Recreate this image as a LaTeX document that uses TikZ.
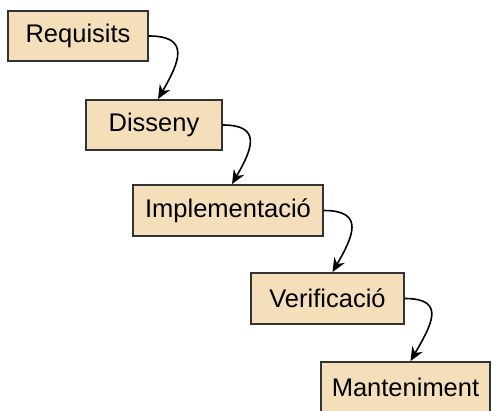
\documentclass[tikz,border=0pt]{standalone}
\usepackage{fontspec}
\setmainfont{Liberation Sans}
\usetikzlibrary{arrows.meta}
\definecolor{phasefill}{HTML}{F5DFBA}
\definecolor{phaseline}{HTML}{333333}
\begin{document}
\begin{tikzpicture}[x=1pt,y=-1pt,
  phase/.style={draw=phaseline, line width=1.8pt, fill=phasefill,
    minimum height=50pt, inner sep=0pt, font=\fontsize{25.5}{29}\selectfont},
  flow/.style={line width=1.6pt, -{Stealth[length=14pt,width=12pt]}}]
\useasboundingbox (0,0) rectangle (493,410);
\node[phase, minimum width=140pt] (req) at (78,36) {Requisits};
\node[phase, minimum width=136pt] (dis) at (154,125) {Disseny};
\node[phase, minimum width=190pt, minimum height=51pt] (imp) at (228,210.5) {Implementació};
\node[phase, minimum width=153pt, minimum height=51pt] (ver) at (327.5,298.5) {Verificació};
\node[phase, minimum width=169pt] (man) at (405.5,387) {Manteniment};
\draw[flow] (req.east) to[out=0,in=60,looseness=1.7] ([xshift=4pt]dis.north);
\draw[flow] (dis.east) to[out=0,in=60,looseness=1.7] ([xshift=4pt]imp.north);
\draw[flow] (imp.east) to[out=0,in=60,looseness=1.7] ([xshift=5pt]ver.north);
\draw[flow] (ver.east) to[out=0,in=60,looseness=1.7] ([xshift=5pt]man.north);
\end{tikzpicture}
\end{document}
